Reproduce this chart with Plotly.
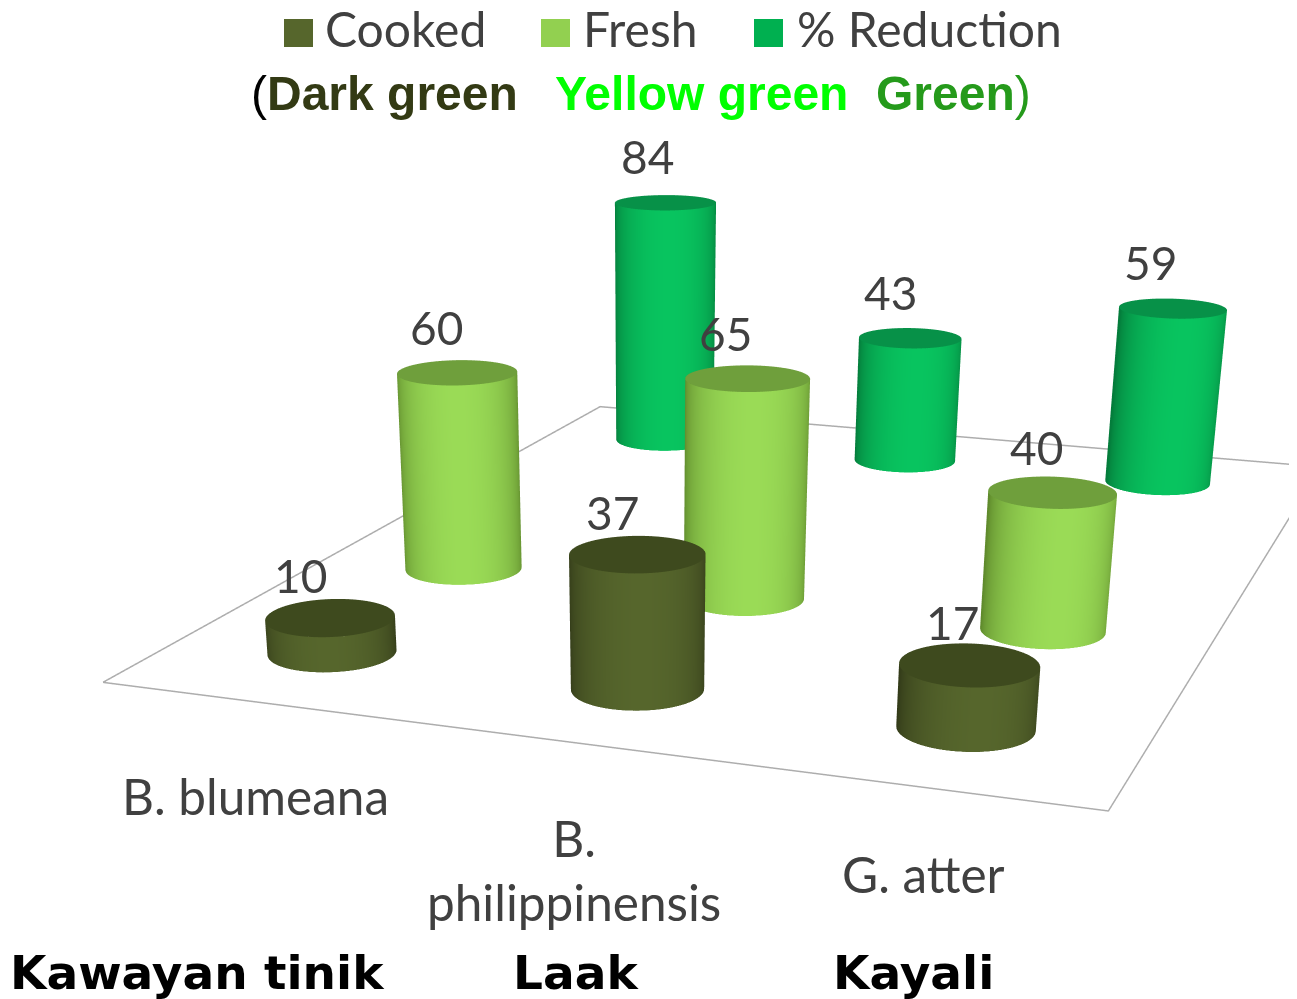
import numpy as np
import plotly.graph_objects as go

W, H = 1297, 999
# the figure is taller than the window: a tall scene gives a long lens, so the cylinders stay upright
FIG_W, FIG_H = 1281, 2154
PAGE_MARGIN = 8

categories = ["B. blumeana", "B.<br>philippinensis", "G. atter"]
common_names = ["Kawayan tinik", "Laak", "Kayali"]
series_names = ["Cooked", "Fresh", "% Reduction"]
cooked = [10, 37, 17]
fresh = [60, 65, 40]
reduction = [84, 43, 59]

# edge colour, highlight colour, cap colour
series_colors = [
    ("#333b19", "#56662c", "#3e4a1e"),
    ("#5f8a2c", "#9adb56", "#6f9f3c"),
    ("#047c3b", "#08c45f", "#079148"),
]
swatch_colors = ["#56662c", "#92d050", "#00b050"]

x_pos = [0.5, 1.5, 2.49]
x_row_offset = [0, -0.01, -0.035]
y_pos = [0.38, 1.13, 2.65]
label_shift = [[-30, -25, -17], [-21, -22, -16], [-18, -20, -22]]
label_lift = [42, 45, 46]

RX, RY = 0.195, 0.151
theta = np.linspace(0, 2 * np.pi, 97)
shade = np.clip(np.cos(theta - np.radians(-65)), 0, 1) ** 0.9  # highlight faces the viewer


def cylinder(cx, cy, value, colors):
    xs = cx + RX * np.cos(theta)
    ys = cy + RY * np.sin(theta)
    flat = dict(ambient=1, diffuse=0, specular=0, fresnel=0)
    side = go.Surface(
        x=np.array([xs, xs]), y=np.array([ys, ys]), z=np.array([0 * theta, 0 * theta + value]),
        surfacecolor=np.array([shade, shade]), cmin=0, cmax=1,
        colorscale=[[0, colors[0]], [1, colors[1]]], showscale=False, hoverinfo="skip", lighting=flat,
    )
    cap = go.Surface(
        x=np.array([0 * xs + cx, xs]), y=np.array([0 * ys + cy, ys]), z=np.full((2, theta.size), float(value)),
        surfacecolor=np.zeros((2, theta.size)), cmin=0, cmax=1,
        colorscale=[[0, colors[2]], [1, colors[2]]], showscale=False, hoverinfo="skip", lighting=flat,
    )
    return [side, cap]


fig = go.Figure()

# floor outline
fig.add_trace(go.Scatter3d(x=[0, 3, 3, 0, 0], y=[0, 0, 3, 3, 0], z=[0, 0, 0, 0, 0], mode="lines",
                           line=dict(color="#adadad", width=3), hoverinfo="skip", showlegend=False))

scene_notes = []
for j, values in enumerate([cooked, fresh, reduction]):
    for i, v in enumerate(values):
        cx = x_pos[i] + x_row_offset[j]
        for tr in cylinder(cx, y_pos[j], v, series_colors[j]):
            fig.add_trace(tr)
        scene_notes.append(dict(x=cx, y=y_pos[j], z=v, text=str(v), showarrow=False,
                                yshift=label_lift[j], xshift=label_shift[j][i],
                                font=dict(family="Lato", size=46, color="#404040")))


def px(x):
    return (x - PAGE_MARGIN) / FIG_W


def py(y):
    return 1 - (y - PAGE_MARGIN) / FIG_H


def note(x, y, text, size, family="Lato", color="#404040", anchor="left"):
    fig.add_annotation(x=px(x), y=py(y), xref="paper", yref="paper", text=text, showarrow=False,
                       xanchor=anchor, yanchor="middle", font=dict(family=family, size=size, color=color))


# legend drawn by hand, the original sits in one row above the plot
for name, color, sx, tx in zip(series_names, swatch_colors, [284, 541, 754], [323, 581, 795]):
    fig.add_shape(type="rect", xref="paper", yref="paper", x0=px(sx), x1=px(sx + 29),
                  y0=py(47), y1=py(19), fillcolor=color, line_width=0)
    note(tx, 29, name, 48)

bold = "Liberation Sans"
note(249, 93, "(<b><span style='color:#333a14'>Dark green</span></b>", 48, bold, "#000000")
note(553, 93, "<b>Yellow green</b>", 48, bold, "#00ff00")
note(874, 93, "<b>Green</b>)", 48, bold, "#259a1b")

for text, x, y in zip(categories, [255, 574, 923], [796, 870, 874]):
    note(x, y, text, 49.5, anchor="center")
for text, x in zip(common_names, [8, 511, 831]):
    note(x, 972, "<b>" + text + "</b>", 47, "DejaVu Sans", "#000000")

axis = dict(visible=False, showspikes=False)
fig.update_layout(
    width=FIG_W, height=FIG_H, margin=dict(l=0, r=0, t=0, b=0), paper_bgcolor="white",
    showlegend=False, hovermode=False,
    scene=dict(
        domain=dict(x=[0, 1], y=[0, 1]),
        xaxis=dict(range=[0, 3], **axis), yaxis=dict(range=[0, 3], **axis), zaxis=dict(range=[0, 98], **axis),
        aspectmode="manual", aspectratio=dict(x=0.622, y=0.8245, z=0.2205),
        camera=dict(eye=dict(x=0.545, y=-1.728, z=0.39), center=dict(x=-0.0872, y=-0.0588, z=-0.5143),
                    up=dict(x=0, y=0, z=1)),
        annotations=scene_notes,
    ),
)
fig.write_html("out.html")
